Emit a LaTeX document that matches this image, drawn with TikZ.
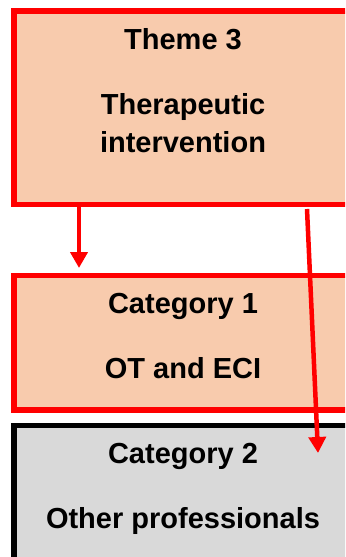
\documentclass[tikz,border=0pt]{standalone}
\usepackage{fontspec}
\setmainfont{Liberation Sans}
\usetikzlibrary{arrows.meta}
\definecolor{peach}{HTML}{F8CBAD}
\definecolor{pale}{HTML}{D9D9D9}
\definecolor{linkred}{HTML}{FF0000}
\begin{document}
\begin{tikzpicture}[x=1bp,y=-1bp,
  box/.style={rectangle,line width=5.5bp,inner sep=0pt},
  themebox/.style={box,draw=linkred,fill=peach},
  otherbox/.style={box,draw=black,fill=pale},
  label/.style={anchor=base,inner sep=0pt,font=\fontsize{29bp}{34bp}\selectfont\bfseries},
  link/.style={draw=linkred,line width=4.5bp,-{Triangle[width=17bp,length=16bp]}}]
\useasboundingbox (0,0) rectangle (345,557);
\clip (0,0) rectangle (345,557);
% boxes
\node[themebox,minimum width=338bp,minimum height=193.5bp] (theme) at (183,107.75) {};
\node[themebox,minimum width=338bp,minimum height=134.5bp] (cat1) at (183,342.75) {};
\node[otherbox,minimum width=338bp,minimum height=200bp] (cat2) at (183,525.5) {};
% texts
\node[label] (tTheme) at (183,50) {Theme 3};
\node[label] (tTher) at (183,115) {Therapeutic};
\node[label] (tInt) at (183,153) {intervention};
\node[label] (tCat1) at (183,313) {Category 1};
\node[label] (tOT) at (183,378) {OT and ECI};
\node[label] (tCat2) at (183,463) {Category 2};
\node[label] (tOther) at (183,528) {Other professionals};
% connector ends
\coordinate (a1s) at (79,206);
\coordinate (a1e) at (79,268);
\coordinate (a2s) at (307,209);
\coordinate (a2e) at (318,453);
\draw[link] (a1s) -- (a1e);
\draw[link] (a2s) -- (a2e);
\end{tikzpicture}
\end{document}
